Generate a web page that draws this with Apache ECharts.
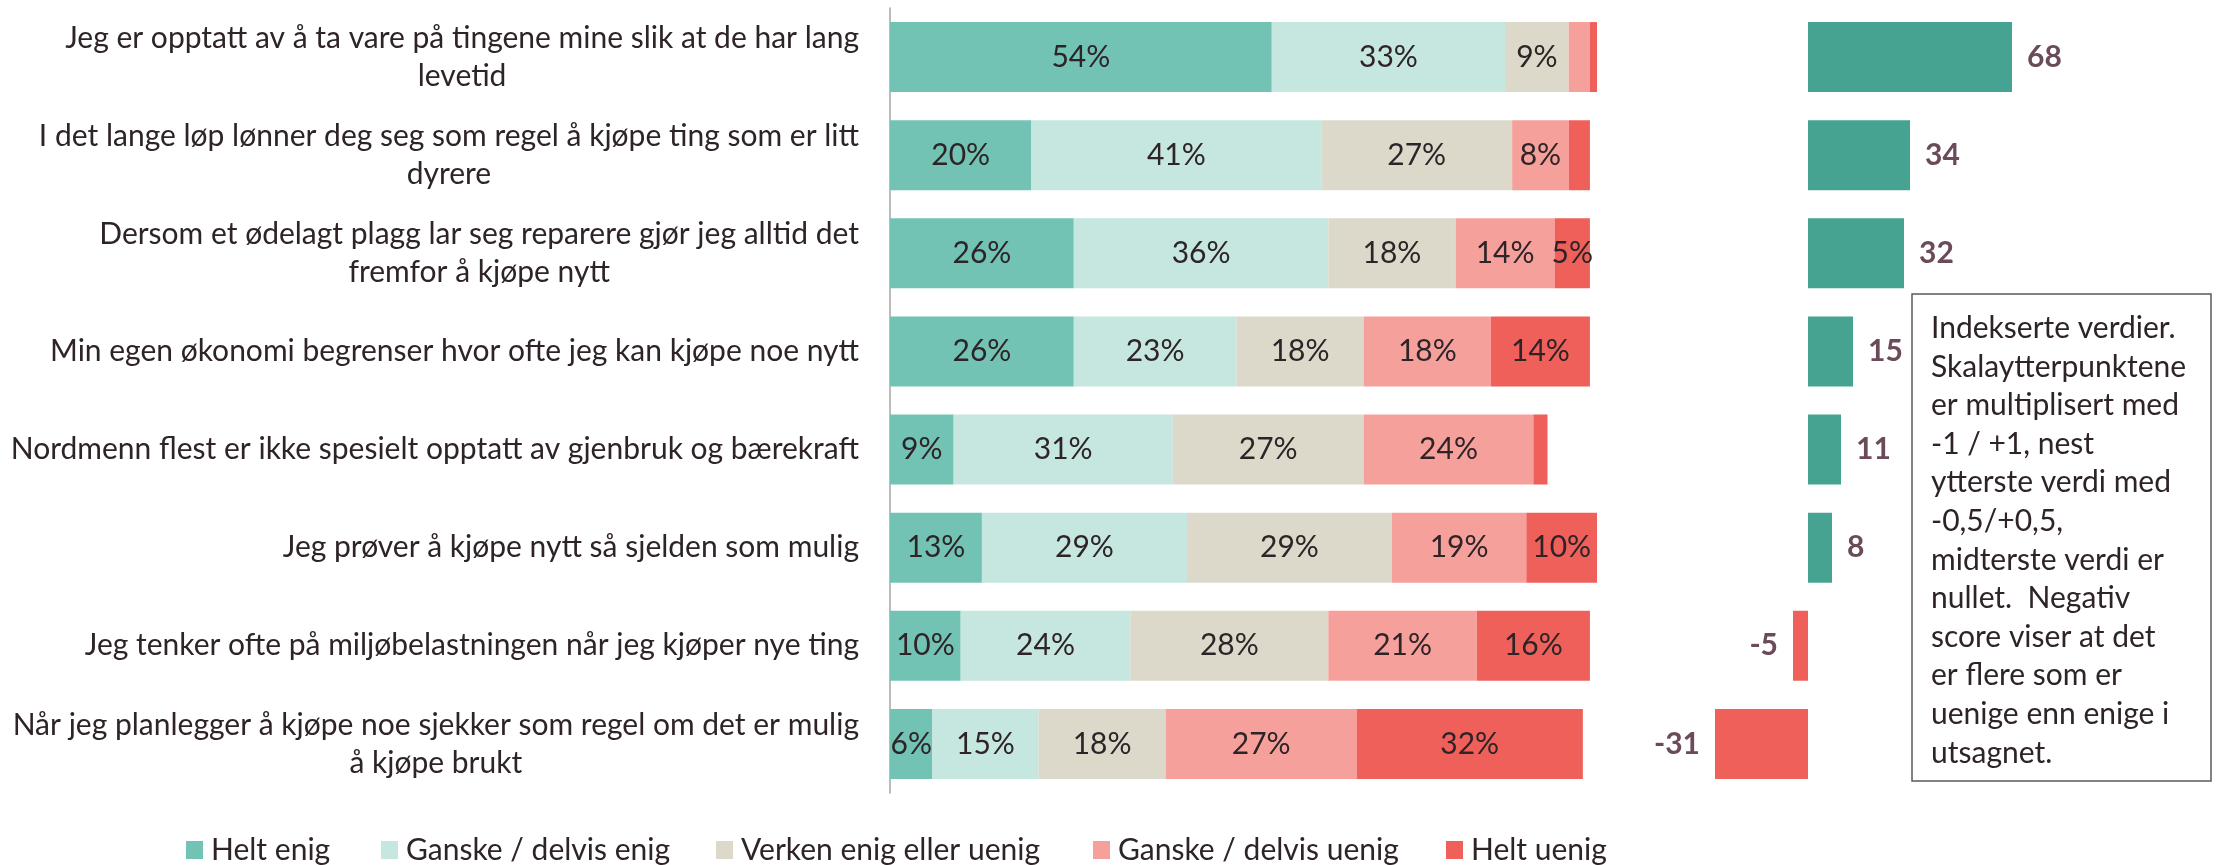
<!DOCTYPE html>
<html>
<head>
<meta charset="utf-8">
<script src="https://cdn.jsdelivr.net/npm/echarts@6/dist/echarts.min.js"></script>
<style>
  html, body { margin: 0; padding: 0; background: #fff; }
  #chart { width: 2218px; height: 865px; }
</style>
</head>
<body>
<div id="chart"></div>
<script>
const categories = [
    "Jeg er opptatt av å ta vare på tingene mine slik at de har lang\nlevetid",
    "I det lange løp lønner deg seg som regel å kjøpe ting som er litt\ndyrere",
    "Dersom et ødelagt plagg lar seg reparere gjør jeg alltid det\nfremfor å kjøpe nytt",
    "Min egen økonomi begrenser hvor ofte jeg kan kjøpe noe nytt",
    "Nordmenn flest er ikke spesielt opptatt av gjenbruk og bærekraft",
    "Jeg prøver å kjøpe nytt så sjelden som mulig",
    "Jeg tenker ofte på miljøbelastningen når jeg kjøper nye ting",
    "Når jeg planlegger å kjøpe noe sjekker som regel om det er mulig\nå kjøpe brukt"
];
const seriesNames = ["Helt enig", "Ganske / delvis enig", "Verken enig eller uenig", "Ganske / delvis uenig", "Helt uenig"];
const heltEnig = [54, 20, 26, 26, 9, 13, 10, 6];
const ganskeEnig = [33, 41, 36, 23, 31, 29, 24, 15];
const verken = [9, 27, 18, 18, 27, 29, 28, 18];
const ganskeUenig = [3, 8, 14, 18, 24, 19, 21, 27];
const heltUenig = [1, 3, 5, 14, 2, 10, 16, 32];
const indexValues = [68, 34, 32, 15, 11, 8, -5, -31];
const noteLines = [
    "Indekserte verdier.",
    "Skalaytterpunktene",
    "er multiplisert med",
    "-1 / +1, nest",
    "ytterste verdi med",
    "-0,5/+0,5,",
    "midterste verdi er",
    "nullet.  Negativ",
    "score viser at det",
    "er flere som er",
    "uenige enn enige i",
    "utsagnet."
];

const colors = ["#72c3b4", "#c6e6e0", "#dcd9ca", "#f6a09c", "#f0605a"];
const textColor = "#2e2428";
const font = "Lato";
const fs = 30;

const chart = echarts.init(document.getElementById("chart"));

const stackData = [heltEnig, ganskeEnig, verken, ganskeUenig, heltUenig];
const stackSeries = stackData.map((d, i) => ({
    name: seriesNames[i],
    type: "bar",
    stack: "total",
    xAxisIndex: 0,
    yAxisIndex: 0,
    barWidth: 70,
    data: d,
    itemStyle: { color: colors[i] },
    label: {
        show: true,
        position: "inside",
        color: textColor,
        fontFamily: font,
        fontSize: fs,
        formatter: p => (p.value >= 5 ? p.value + "%" : "")
    }
}));

const legendLeft = [181, 376, 711, 1088, 1441];

const option = {
    animation: false,
    textStyle: { fontFamily: font },
    grid: [
        { left: 890, right: 621, top: 8, bottom: 72, outerBoundsMode: "none" },
        { left: 1688, right: 170, top: 8, bottom: 72, outerBoundsMode: "none" }
    ],
    xAxis: [
        { type: "value", gridIndex: 0, min: 0, max: 100, show: false },
        { type: "value", gridIndex: 1, min: -40, max: 80, show: false }
    ],
    yAxis: [
        {
            type: "category",
            gridIndex: 0,
            inverse: true,
            data: categories,
            axisLine: { show: true, lineStyle: { color: "#a6a6a6", width: 1.5 } },
            axisTick: { show: false },
            axisLabel: {
                margin: 31,
                formatter: v => v.split("\n").map(s => "{c|" + s + "}").join("\n"),
                rich: {
                    c: { align: "center", fontFamily: font, fontSize: fs, lineHeight: 38, color: textColor }
                }
            }
        },
        { type: "category", gridIndex: 1, inverse: true, data: categories, show: false }
    ],
    legend: seriesNames.map((n, i) => ({
        data: [n],
        left: legendLeft[i],
        top: 830,
        itemWidth: 17,
        itemHeight: 18,
        itemGap: 0,
        icon: "rect",
        selectedMode: false,
        textStyle: { fontFamily: font, fontSize: fs, color: textColor, padding: [0, 0, 0, 3] }
    })),
    series: stackSeries.concat([{
        name: "Indeks",
        type: "bar",
        xAxisIndex: 1,
        yAxisIndex: 1,
        barWidth: 70,
        data: indexValues.map(v => ({
            value: v,
            itemStyle: { color: v >= 0 ? "#47a391" : "#f0605a" },
            label: { position: v >= 0 ? "right" : "left" }
        })),
        label: {
            show: true,
            distance: 15,
            color: "#6b4a5a",
            fontFamily: font,
            fontWeight: "bold",
            fontSize: fs
        }
    }]),
    graphic: [
        {
            type: "rect",
            shape: { x: 1912, y: 294, width: 299, height: 487 },
            style: { fill: "#fff", stroke: "#5a5a5a", lineWidth: 1.5 }
        },
        {
            type: "text",
            x: 1931,
            y: 309,
            style: {
                text: noteLines.join("\n"),
                fill: textColor,
                fontFamily: font,
                fontSize: fs,
                lineHeight: 38.6,
                verticalAlign: "top"
            }
        }
    ]
};

chart.setOption(option);
</script>
</body>
</html>
